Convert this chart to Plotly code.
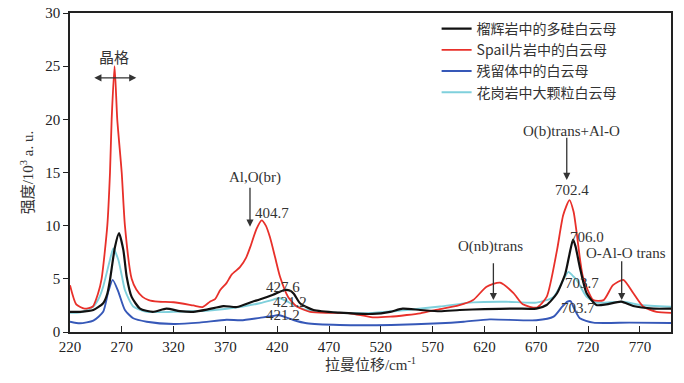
import plotly.graph_objects as go

# ---------------- data ----------------
names = ["榴辉岩中的多硅白云母", "Spail片岩中的白云母", "残留体中的白云母", "花岗岩中大颗粒白云母"]

black_x = [220, 230, 242.5, 252, 256, 258.6, 263.4, 267.3, 271.5, 274.7, 279.5, 287.6, 300, 313, 326, 339,
           352, 368, 381, 396, 403, 416, 427, 432, 436, 442, 455, 480, 512, 529, 541, 558, 577, 596, 620,
           650, 670, 680, 690, 698, 702, 705.5, 708, 712, 718.6, 728, 737.6, 752, 763.5, 783, 800]
black_y = [1.9, 1.9, 2.07, 2.7, 3.6, 4.9, 8.0, 9.3, 7.7, 5.2, 3.3, 2.2, 1.9, 2.2, 1.97, 1.9,
           2.1, 2.44, 2.35, 2.85, 3.05, 3.5, 3.95, 3.9, 3.6, 2.7, 2.07, 1.82, 1.7, 1.9, 2.2, 2.07, 1.95, 2.07, 2.15,
           2.2, 2.2, 2.54, 3.64, 5.5, 7.3, 8.7, 8.0, 6.1, 3.64, 2.54, 2.6, 2.85, 2.44, 2.2, 2.2]

red_x = [220, 226, 234, 242, 247, 250.5, 256, 258.6, 260.2, 263, 265.6, 269.9, 273, 279.5, 284, 290, 296,
         305, 320, 339, 348, 355, 360, 365, 371, 376, 384, 390, 394, 400, 405, 409, 413, 418, 422.7, 430.5,
         438.8, 451.7, 470, 490, 512, 529, 545, 558, 577, 595, 609, 622, 635, 648, 657, 670.5, 680, 690,
         696, 702, 706, 709, 715, 725, 735, 744, 754, 763.5, 773, 786, 800]
red_y = [4.4, 2.6, 2.2, 2.4, 3.6, 5.0, 10.0, 15.0, 20.0, 25.0, 20.0, 15.0, 10.0, 5.0, 4.0, 3.3, 3.0,
         2.85, 2.8, 2.5, 2.35, 2.85, 3.1, 3.95, 4.6, 5.4, 6.1, 7.0, 8.0, 9.7, 10.5, 10.0, 8.9, 7.0, 5.2, 3.3,
         2.4, 1.9, 1.8, 1.76, 1.38, 1.44, 1.6, 1.76, 2.15, 2.5, 3.0, 4.26, 4.64, 3.66, 2.6, 2.3, 3.3, 7.7,
         11.0, 12.4, 11.3, 9.3, 5.2, 3.0, 3.0, 4.4, 4.9, 3.66, 2.4, 1.9, 1.8]

blue_x = [220, 229.6, 242.5, 252, 257, 261.2, 266.6, 273, 281, 294, 320, 345, 371, 385, 403, 416, 421,
          428, 435.6, 448.5, 480, 530, 577, 600, 625, 670, 686.7, 695, 700, 703, 706.6, 712, 725, 760, 800]
blue_y = [0.97, 0.82, 1.07, 1.9, 3.8, 4.9, 3.8, 2.07, 1.29, 0.97, 0.75, 0.88, 1.15, 1.1, 1.33, 1.5, 1.6,
          1.4, 1.13, 0.82, 0.66, 0.66, 0.82, 0.97, 1.19, 1.1, 1.44, 2.38, 2.85, 2.9, 2.2, 1.29, 0.88, 0.88, 0.85]

cyan_x = [220, 230, 242.5, 248, 252, 258.6, 261.8, 266.6, 270, 273, 281, 294, 320, 352, 387, 403, 413,
          422, 429, 436, 448.5, 480, 512, 545, 577, 609, 641, 670, 686.7, 696, 701, 705, 709, 718.6, 728,
          754, 770, 800]
cyan_y = [1.8, 1.85, 2.4, 3.2, 4.26, 6.8, 7.85, 6.8, 5.3, 3.95, 2.4, 1.9, 1.9, 2.0, 2.4, 2.7, 2.95,
          3.2, 2.9, 2.54, 2.07, 1.8, 1.8, 2.07, 2.4, 2.79, 2.85, 2.76, 3.3, 4.9, 5.65, 5.3, 4.9, 3.3, 2.76,
          2.85, 2.54, 2.38]

x_ticks = [220, 270, 320, 370, 420, 470, 520, 570, 620, 670, 720, 770]
y_ticks = [0, 5, 10, 15, 20, 25, 30]

# peak / band labels: (text, x, y)
labels = [
    ("晶格", 262, 25.9),
    ("Al,O(br)", 398.6, 14.5),
    ("404.7", 415, 11.2),
    ("427.6", 426, 4.26),
    ("421.2", 432.4, 2.85),
    ("421.2", 425.6, 1.6),
    ("O(b)trans+Al-O", 704, 18.85),
    ("702.4", 704, 13.4),
    ("706.0", 718.6, 8.97),
    ("O-Al-O trans", 756.4, 7.4),
    ("O(nb)trans", 626, 8.0),
    ("703.7", 713.8, 4.58),
    ("703.7", 710.6, 2.23),
]
# arrows: (x_from, y_from, x_to, y_to, both_ends)
arrows = [
    (242, 23.9, 284, 23.9, True),
    (393.7, 13.7, 393.7, 9.9, False),
    (699.4, 18.4, 699.4, 14.3, False),
    (752.4, 6.8, 752.4, 3.0, False),
    (628.6, 6.6, 628.6, 3.0, False),
]

# ---------------- figure ----------------
serif = "Liberation Serif, Times New Roman, Noto Sans CJK SC, serif"
cjk = "Noto Sans CJK SC, sans-serif"

fig = go.Figure()
series = [
    (names[0], black_x, black_y, "#111111", 2.2),
    (names[1], red_x, red_y, "#e8302a", 1.8),
    (names[2], blue_x, blue_y, "#3658b8", 1.9),
    (names[3], cyan_x, cyan_y, "#7fd0dc", 1.9),
]
# draw order: cyan, blue, red, black on top; legend order preserved via legendrank
ranks = {names[0]: 1, names[1]: 2, names[2]: 3, names[3]: 4}
for nm, xs, ys, col, w in [series[3], series[2], series[1], series[0]]:
    fig.add_trace(go.Scatter(x=xs, y=ys, mode="lines", name=nm,
                             line=dict(color=col, width=w, shape="spline", smoothing=0.6),
                             legendrank=ranks[nm]))

for txt, x, y in labels:
    fig.add_annotation(x=x, y=y, text=txt, showarrow=False, xanchor="center", yanchor="middle",
                       font=dict(family=cjk if txt == "晶格" else serif, size=15, color="#333333"))

for x0, y0, x1, y1, both in arrows:
    fig.add_annotation(x=x1, y=y1, ax=x0, ay=y0, xref="x", yref="y", axref="x", ayref="y",
                       text="", showarrow=True, arrowhead=2, arrowsize=1.1, arrowwidth=1.3,
                       arrowcolor="#333333", arrowside="end+start" if both else "end",
                       startarrowhead=2, startarrowsize=1.1, standoff=0, startstandoff=0)

fig.update_layout(
    width=684, height=383,
    margin=dict(l=70, r=13, t=13, b=51, autoexpand=False),
    paper_bgcolor="white", plot_bgcolor="white",
    showlegend=True,
    legend=dict(x=0.61, y=1.0, xanchor="left", yanchor="top", bgcolor="rgba(0,0,0,0)",
                font=dict(family=cjk, size=14, color="#333333"), tracegroupgap=0,
                itemwidth=30),
    font=dict(family=serif, color="#222222"),
)
fig.update_xaxes(range=[220, 800], tickvals=x_ticks, ticks="inside", ticklen=6, tickwidth=1.2,
                 tickcolor="#222", showline=True, linecolor="#222", linewidth=1.5, mirror=True,
                 showgrid=False, zeroline=False, automargin=False,
                 tickfont=dict(family=serif, size=15, color="#222"),
                 title=dict(text="拉曼位移/cm<sup>-1</sup>", font=dict(family=serif, size=15, color="#333"),
                            standoff=6))
fig.update_yaxes(range=[0, 30], tickvals=y_ticks, ticks="outside", ticklen=5, tickwidth=1.2,
                 tickcolor="#222", showline=True, linecolor="#222", linewidth=1.5, mirror=True,
                 showgrid=False, zeroline=False, automargin=False,
                 tickfont=dict(family=serif, size=15, color="#222"),
                 title=dict(text="强度/10<sup>3</sup> a. u.", font=dict(family=serif, size=15, color="#333"),
                            standoff=8))

fig.write_html("out.html", config={"displayModeBar": False},
               post_script="document.body.style.margin='0';")
